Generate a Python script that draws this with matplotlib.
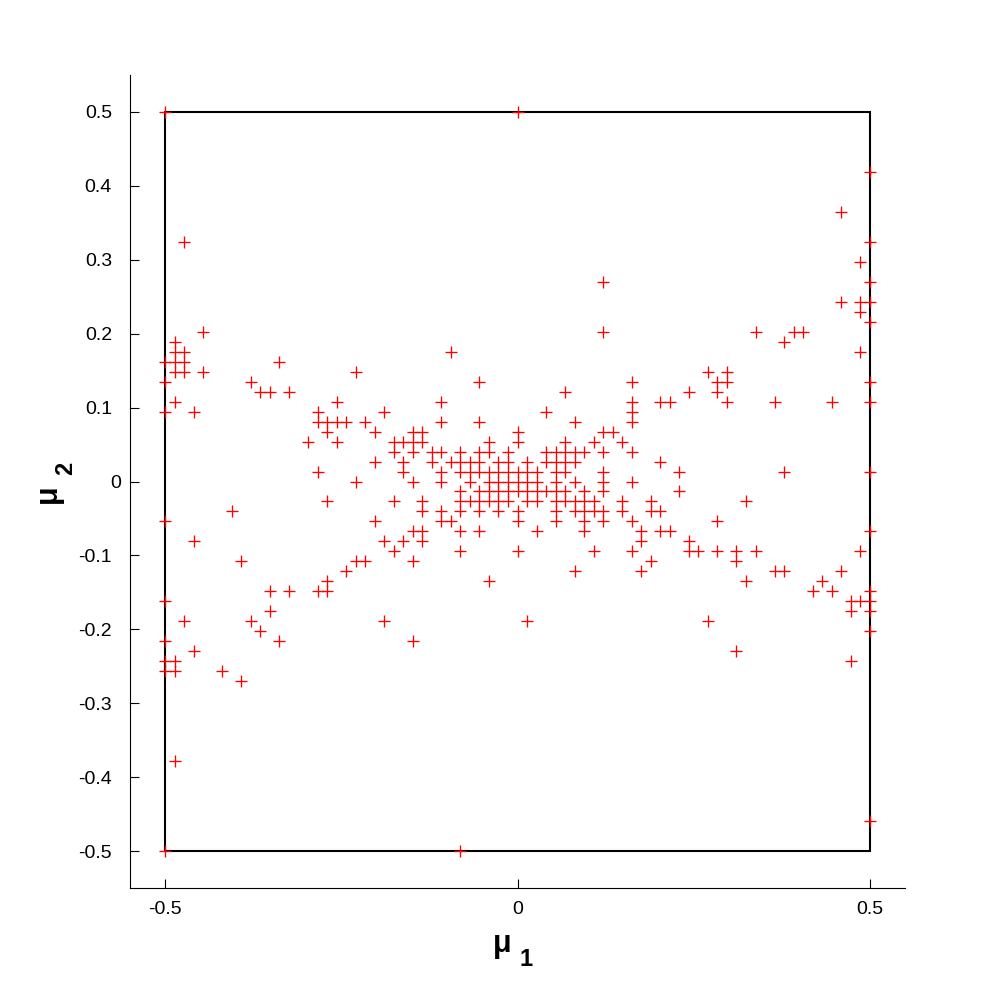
import numpy as np
import matplotlib
matplotlib.use('Agg')
import matplotlib.pyplot as plt
from matplotlib.patches import Rectangle
from matplotlib.transforms import ScaledTranslation

plt.rcParams['font.family'] = ['Liberation Sans', 'DejaVu Sans']
plt.rcParams['axes.unicode_minus'] = False

# ---- Data: the samples sit on a regular grid of 1/74 steps
GRID = 74
# mu_2 level of each row (in grid steps) and the mu_1 steps found on that row
mu2_rows = [37, 31, 27, 24, 22, 20, 18, 17, 16, 15, 14, 13, 12, 11, 10, 9, 8,
            7, 6, 5, 4, 3, 2, 1, 0, -1, -2, -3, -4, -5, -6, -7, -8, -9, -10,
            -11, -12, -13, -14, -15, -16, -17, -18, -19, -20, -28, -34, -37]
mu1_rows = [
    [-37, 0],
    [37],
    [34],
    [-35, 37],
    [36],
    [9, 37],
    [34, 36, 37],
    [36],
    [37],
    [-33, 9, 25, 29, 30],
    [-36, 28],
    [-36, -35, -7, 36],
    [-37, -36, -35, -25],
    [-36, -35, -33, -17, 20, 22],
    [-37, -28, -4, 12, 21, 22, 37],
    [-27, -26, -24, 5, 18, 21],
    [-36, -19, -8, 12, 15, 16, 22, 27, 33, 37],
    [-37, -34, -21, -14, 3, 12],
    [-21, -20, -19, -18, -16, -8, -4, 6, 12],
    [-20, -15, -11, -10, 0, 9, 10],
    [-22, -19, -13, -12, -11, -10, -3, 0, 5, 8, 11],
    [-13, -11, -9, -8, -6, -4, -3, -1, 3, 4, 5, 6, 7, 9, 12],
    [-15, -12, -9, -7, -6, -5, -4, -2, -1, 1, 3, 4, 5, 6, 15],
    [-21, -12, -8, -6, -5, -4, -3, -2, -1, 0, 1, 2, 4, 5, 9, 17, 28, 37],
    [-17, -11, -8, -5, -3, -2, -1, 0, 1, 2, 4, 6, 9, 12],
    [-6, -4, -3, -2, -1, 0, 1, 2, 3, 4, 5, 7, 9, 17],
    [-20, -13, -10, -6, -5, -4, -3, -2, -1, 1, 2, 4, 5, 6, 7, 8, 11, 14, 24],
    [-30, -10, -8, -6, -4, -2, 0, 4, 6, 7, 8, 9, 11, 14, 15],
    [-37, -15, -8, -7, 0, 4, 7, 9, 12, 21],
    [-11, -10, -6, -4, 2, 7, 13, 15, 16, 37],
    [-34, -14, -12, -10, 13, 18],
    [-13, -6, 0, 8, 12, 18, 19, 21, 23, 25, 36],
    [-29, -17, -16, -11, 14, 23],
    [-18, 6, 13, 27, 28, 34],
    [-20, -3, 24, 32],
    [-26, -24, -21, -20, 31, 33, 37],
    [-37, 35, 36, 37],
    [-26, 35, 37],
    [-35, -28, -14, 1, 20],
    [-27, 37],
    [-37, -25, -11],
    [-34, 23],
    [-37, -36, 35],
    [-37, -36, -31],
    [-29],
    [-36],
    [37],
    [-37, -6],
]
domain = [-0.5, 0.5]

x_ticks = [-0.5, 0, 0.5]
x_ticklabels = ['-0.5', '0', '0.5']
y_ticks = [-0.5, -0.4, -0.3, -0.2, -0.1, 0, 0.1, 0.2, 0.3, 0.4, 0.5]
y_ticklabels = ['-0.5', '-0.4', '-0.3', '-0.2', '-0.1', '0',
                '0.1', '0.2', '0.3', '0.4', '0.5']

# ---- Expand rows into point lists
mu1 = []
mu2 = []
for level, cols in zip(mu2_rows, mu1_rows):
    mu1.extend(cols)
    mu2.extend([level] * len(cols))
mu1 = np.array(mu1) / GRID
mu2 = np.array(mu2) / GRID

# ---- Figure
fig = plt.figure(figsize=(9.99, 10), dpi=100, facecolor='w')
ax = fig.add_axes([130 / 999, 112 / 1000, 775 / 999, 813 / 1000])

lo, hi = domain
ax.add_patch(Rectangle((lo, lo), hi - lo, hi - lo, fill=False,
                       edgecolor='black', linewidth=1.5, zorder=2))
ax.plot(mu1, mu2, linestyle='none', marker='+', color='#ff0000',
        markersize=9.2, markeredgewidth=0.95, zorder=3)

ax.set_xlim(-0.55, 0.55)
ax.set_ylim(-0.55, 0.55)

# ---- Style the axes (left and bottom only, ticks pointing in)
for side in ['top', 'right']:
    ax.spines[side].set_visible(False)
for side in ['left', 'bottom']:
    ax.spines[side].set_linewidth(0.8)

ax.set_xticks(x_ticks)
ax.set_xticklabels(x_ticklabels)
ax.set_yticks(y_ticks)
ax.set_yticklabels(y_ticklabels)
ax.tick_params(axis='both', direction='in', length=6.5, width=0.8,
               labelsize=14, colors='black')
ax.tick_params(axis='x', pad=9)
ax.tick_params(axis='y', pad=13)

# the lone '0' label sits a little closer to the axis in the original
for lbl in ax.get_yticklabels():
    if lbl.get_text() == '0':
        lbl.set_transform(lbl.get_transform()
                          + ScaledTranslation(0.09, 0, fig.dpi_scale_trans))

# ---- Axis labels: bold mu with a large subscript
ax.set_xlabel('μ', fontsize=22, fontweight='bold')
ax.xaxis.set_label_coords(0.4806, -0.051)
ax.text(0.511, -0.0959, '1', transform=ax.transAxes, fontsize=17,
        fontweight='bold', ha='center', va='baseline')

ax.set_ylabel('μ', fontsize=22, fontweight='bold')
ax.yaxis.set_label_coords(-0.0865, 0.4852)
ax.text(-0.0748, 0.516, '2', transform=ax.transAxes, fontsize=17,
        fontweight='bold', ha='center', va='baseline', rotation=90,
        rotation_mode='anchor')

fig.savefig('out.png', dpi=100, facecolor='w')
plt.close(fig)
